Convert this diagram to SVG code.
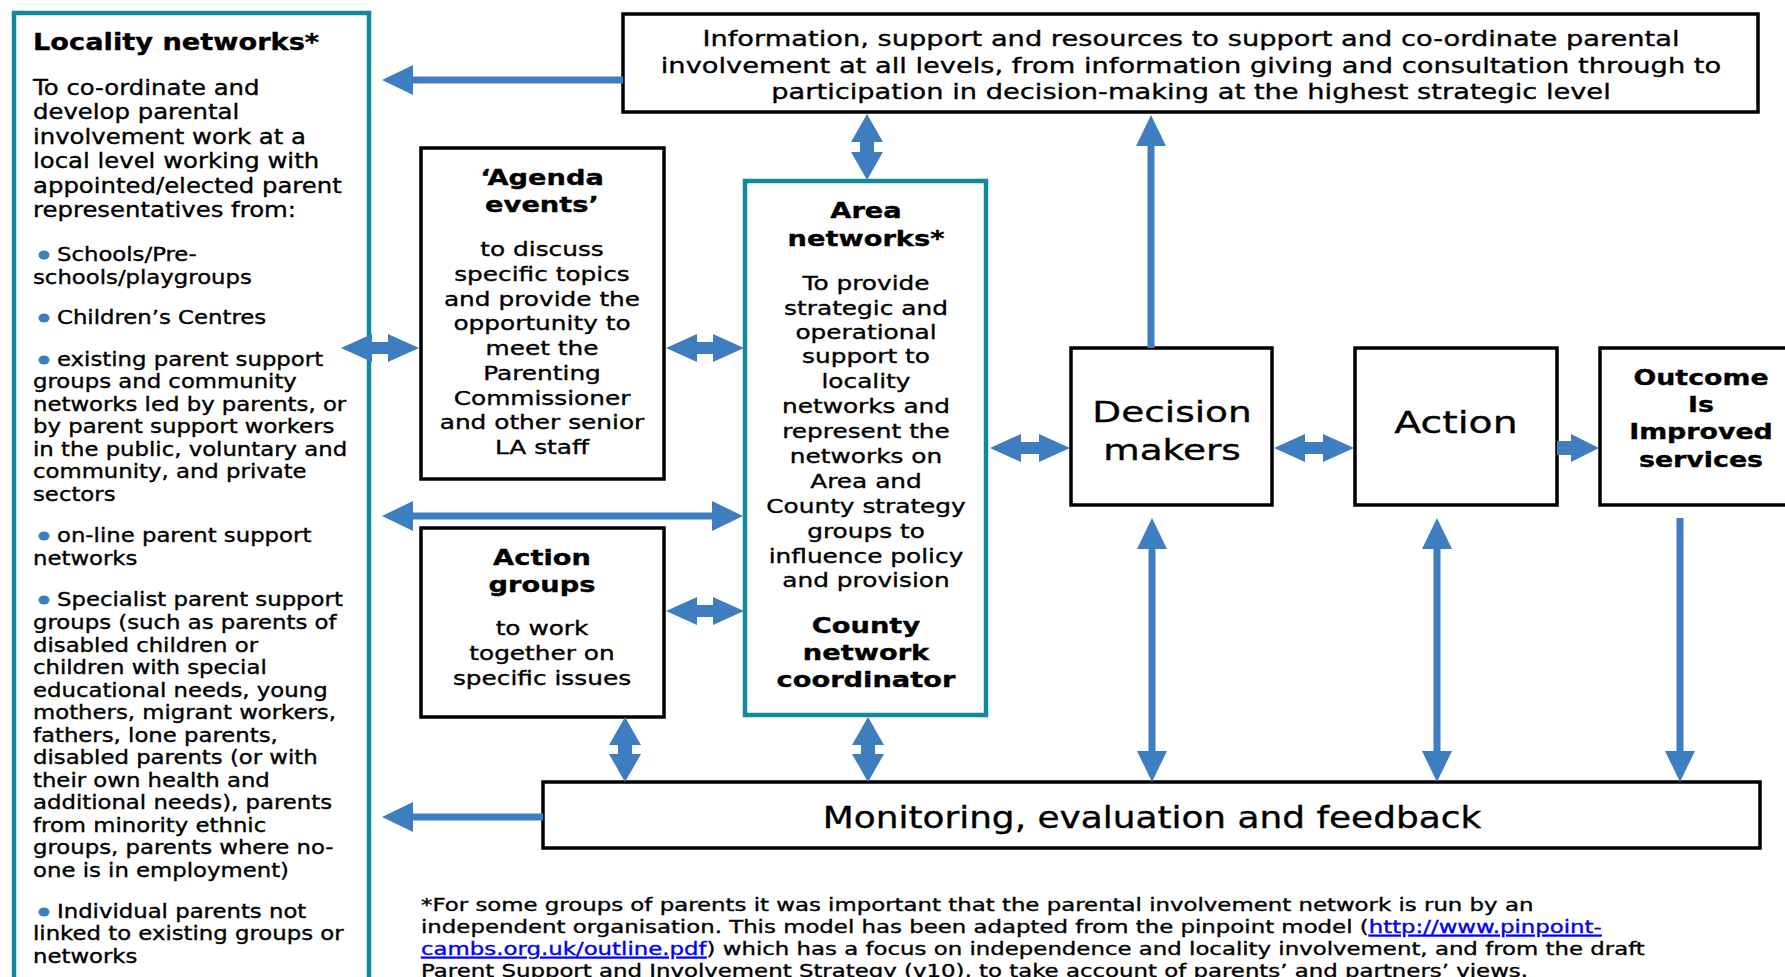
<svg xmlns="http://www.w3.org/2000/svg" width="1785" height="977" viewBox="0 0 1785 977">
<defs>
<style>
text { font-family: "DejaVu Sans", Verdana, sans-serif; fill: #000; stroke: #000; stroke-width: 0.35px; }
.box { fill: #fff; stroke: #000; stroke-width: 3.5; }
.tbox { fill: #fff; stroke: #12899B; stroke-width: 4.5; }
.tl { font-size: 22.5px; font-weight: bold; }
.intro { font-size: 21px; }
.bul { font-size: 19px; }
.dot { fill: #3E7EC0; }
.bt { font-size: 22px; font-weight: bold; text-anchor: middle; }
.bb { font-size: 20px; text-anchor: middle; }
.top { font-size: 22px; text-anchor: middle; }
.big { font-size: 29px; text-anchor: middle; }
.act { font-size: 31px; text-anchor: middle; }
.mon { font-size: 30px; text-anchor: middle; }
.foot { font-size: 18px; }
.link { fill: #0000EE; stroke: #0000EE; text-decoration: underline; }
.thin { stroke: #3E7EC0; stroke-width: 7; fill: none; }
.blk { fill: #3E7EC0; }
</style>
<marker id="ah" markerUnits="userSpaceOnUse" markerWidth="31" markerHeight="32" viewBox="0 -16 31 32" refX="1" refY="0" orient="auto-start-reverse">
<path d="M0,-15 L31,0 L0,15 z" fill="#3E7EC0"/>
</marker>
</defs>
<rect width="1785" height="977" fill="#fff"/>

<g id="locality">
<rect class="tbox" x="14" y="13" width="355" height="1000"/>
<g transform="translate(33 0) scale(1.21 1)">
<text class="tl" x="0" y="50">Locality networks*</text>
</g>
<g transform="translate(33 0) scale(1.16 1)">
<text class="intro" x="0" y="95">To co-ordinate and</text>
<text class="intro" x="0" y="119.5">develop parental</text>
<text class="intro" x="0" y="144">involvement work at a</text>
<text class="intro" x="0" y="168.5">local level working with</text>
<text class="intro" x="0" y="193">appointed/elected parent</text>
<text class="intro" x="0" y="217.5">representatives from:</text>
</g>
<ellipse class="dot" cx="44" cy="255" rx="5.5" ry="4.5"/>
<ellipse class="dot" cx="44" cy="318" rx="5.5" ry="4.5"/>
<ellipse class="dot" cx="44" cy="360" rx="5.5" ry="4.5"/>
<ellipse class="dot" cx="44" cy="536" rx="5.5" ry="4.5"/>
<ellipse class="dot" cx="44" cy="600" rx="5.5" ry="4.5"/>
<ellipse class="dot" cx="44" cy="912" rx="5.5" ry="4.5"/>
<g transform="translate(33 0) scale(1.2 1)">
<text class="bul" x="20" y="261">Schools/Pre-</text>
<text class="bul" x="0" y="284">schools/playgroups</text>
<text class="bul" x="20" y="324">Children’s Centres</text>
<text class="bul" x="20" y="366">existing parent support</text>
<text class="bul" x="0" y="388.5">groups and community</text>
<text class="bul" x="0" y="411">networks led by parents, or</text>
<text class="bul" x="0" y="433.5">by parent support workers</text>
<text class="bul" x="0" y="456">in the public, voluntary and</text>
<text class="bul" x="0" y="478.5">community, and private</text>
<text class="bul" x="0" y="501">sectors</text>
<text class="bul" x="20" y="542">on-line parent support</text>
<text class="bul" x="0" y="565">networks</text>
<text class="bul" x="20" y="606">Specialist parent support</text>
<text class="bul" x="0" y="629">groups (such as parents of</text>
<text class="bul" x="0" y="652">disabled children or</text>
<text class="bul" x="0" y="674.5">children with special</text>
<text class="bul" x="0" y="697">educational needs, young</text>
<text class="bul" x="0" y="719.5">mothers, migrant workers,</text>
<text class="bul" x="0" y="742">fathers, lone parents,</text>
<text class="bul" x="0" y="764.5">disabled parents (or with</text>
<text class="bul" x="0" y="787">their own health and</text>
<text class="bul" x="0" y="809.5">additional needs), parents</text>
<text class="bul" x="0" y="832">from minority ethnic</text>
<text class="bul" x="0" y="854.5">groups, parents where no-</text>
<text class="bul" x="0" y="877">one is in employment)</text>
<text class="bul" x="20" y="918">Individual parents not</text>
<text class="bul" x="0" y="940.5">linked to existing groups or</text>
<text class="bul" x="0" y="963">networks</text>
</g>
</g>

<g id="top-info">
<rect class="box" x="623" y="14" width="1135" height="98"/>
<g transform="translate(1191 0) scale(1.24 1)">
<text class="top" x="0" y="46">Information, support and resources to support and co-ordinate parental</text>
<text class="top" x="0" y="73">involvement at all levels, from information giving and consultation through to</text>
<text class="top" x="0" y="99">participation in decision-making at the highest strategic level</text>
</g>
</g>

<g id="agenda">
<rect class="box" x="421" y="148" width="243" height="331"/>
<g transform="translate(542 0) scale(1.24 1)">
<text class="bt" x="0" y="185">‘Agenda</text>
<text class="bt" x="0" y="212">events’</text>
<text class="bb" x="0" y="256">to discuss</text>
<text class="bb" x="0" y="281">specific topics</text>
<text class="bb" x="0" y="306">and provide the</text>
<text class="bb" x="0" y="330">opportunity to</text>
<text class="bb" x="0" y="355">meet the</text>
<text class="bb" x="0" y="380">Parenting</text>
<text class="bb" x="0" y="405">Commissioner</text>
<text class="bb" x="0" y="429">and other senior</text>
<text class="bb" x="0" y="454">LA staff</text>
</g>
</g>

<g id="area">
<rect class="tbox" x="745" y="181" width="241" height="534"/>
<g transform="translate(866 0) scale(1.24 1)">
<text class="bt" x="0" y="218">Area</text>
<text class="bt" x="0" y="246">networks*</text>
<text class="bb" x="0" y="290">To provide</text>
<text class="bb" x="0" y="315">strategic and</text>
<text class="bb" x="0" y="339">operational</text>
<text class="bb" x="0" y="363">support to</text>
<text class="bb" x="0" y="388">locality</text>
<text class="bb" x="0" y="413">networks and</text>
<text class="bb" x="0" y="438">represent the</text>
<text class="bb" x="0" y="463">networks on</text>
<text class="bb" x="0" y="488">Area and</text>
<text class="bb" x="0" y="513">County strategy</text>
<text class="bb" x="0" y="538">groups to</text>
<text class="bb" x="0" y="563">influence policy</text>
<text class="bb" x="0" y="587">and provision</text>
<text class="bt" x="0" y="633">County</text>
<text class="bt" x="0" y="660">network</text>
<text class="bt" x="0" y="687">coordinator</text>
</g>
</g>

<g id="action-groups">
<rect class="box" x="421" y="528" width="243" height="189"/>
<g transform="translate(542 0) scale(1.24 1)">
<text class="bt" x="0" y="565">Action</text>
<text class="bt" x="0" y="592">groups</text>
<text class="bb" x="0" y="635">to work</text>
<text class="bb" x="0" y="660">together on</text>
<text class="bb" x="0" y="685">specific issues</text>
</g>
</g>

<g id="decision">
<rect class="box" x="1071" y="348" width="201" height="157"/>
<g transform="translate(1172 0) scale(1.29 1)">
<text class="big" x="0" y="422">Decision</text>
<text class="big" x="0" y="460">makers</text>
</g>
</g>

<g id="action">
<rect class="box" x="1355" y="348" width="202" height="157"/>
<g transform="translate(1456 0) scale(1.27 1)">
<text class="act" x="0" y="433">Action</text>
</g>
</g>

<g id="outcome">
<rect class="box" x="1600" y="348" width="210" height="157"/>
<g transform="translate(1701 0) scale(1.22 1)">
<text class="bt" x="0" y="385">Outcome</text>
<text class="bt" x="0" y="412">Is</text>
<text class="bt" x="0" y="439">Improved</text>
<text class="bt" x="0" y="467">services</text>
</g>
</g>

<g id="monitoring">
<rect class="box" x="543" y="782" width="1217" height="66"/>
<g transform="translate(1152 0) scale(1.196 1)">
<text class="mon" x="0" y="828">Monitoring, evaluation and feedback</text>
</g>
</g>

<g id="connectors">
<line class="thin" x1="623" y1="80" x2="412" y2="80" marker-end="url(#ah)"/>
<line class="thin" x1="1151" y1="348" x2="1151" y2="145" marker-end="url(#ah)"/>
<line class="thin" x1="412" y1="516" x2="713" y2="516" marker-start="url(#ah)" marker-end="url(#ah)"/>
<line class="thin" x1="1152" y1="548" x2="1152" y2="752" marker-start="url(#ah)" marker-end="url(#ah)"/>
<line class="thin" x1="1437" y1="548" x2="1437" y2="752" marker-start="url(#ah)" marker-end="url(#ah)"/>
<line class="thin" x1="1680" y1="518" x2="1680" y2="752" marker-end="url(#ah)"/>
<line class="thin" x1="543" y1="817" x2="412" y2="817" marker-end="url(#ah)"/>
<polygon class="blk" points="341,348 372,334 372,342 388,342 388,334 419,348 388,362 388,354 372,354 372,362"/>
<polygon class="blk" points="666,348 697,334 697,342 713,342 713,334 744,348 713,362 713,354 697,354 697,362"/>
<polygon class="blk" points="666,611 697,597 697,605 713,605 713,597 744,611 713,625 713,617 697,617 697,625"/>
<polygon class="blk" points="990,448 1021,434 1021,442 1039,442 1039,434 1070,448 1039,462 1039,454 1021,454 1021,462"/>
<polygon class="blk" points="1274,448 1305,434 1305,442 1323,442 1323,434 1354,448 1323,462 1323,454 1305,454 1305,462"/>
<polygon class="blk" points="1557,441 1571,441 1571,434 1599,448 1571,462 1571,455 1557,455"/>
<polygon class="blk" points="867,114 883,142 874,142 874,152 883,152 867,180 851,152 860,152 860,142 851,142"/>
<polygon class="blk" points="625,717 641,745 632,745 632,754 641,754 625,782 609,754 618,754 618,745 609,745"/>
<polygon class="blk" points="868,717 884,745 875,745 875,754 884,754 868,782 852,754 861,754 861,745 852,745"/>
</g>

<g id="footnote">
<g transform="translate(421 0) scale(1.27 1)">
<text class="foot" x="0" y="911">*For some groups of parents it was important that the parental involvement network is run by an</text>
<text class="foot" x="0" y="933">independent organisation. This model has been adapted from the pinpoint model (<tspan class="link">http://www.pinpoint-</tspan></text>
<text class="foot" x="0" y="955"><tspan class="link">cambs.org.uk/outline.pdf</tspan>) which has a focus on independence and locality involvement, and from the draft</text>
<text class="foot" x="0" y="977">Parent Support and Involvement Strategy (v10), to take account of parents’ and partners’ views.</text>
</g>
</g>
</svg>
